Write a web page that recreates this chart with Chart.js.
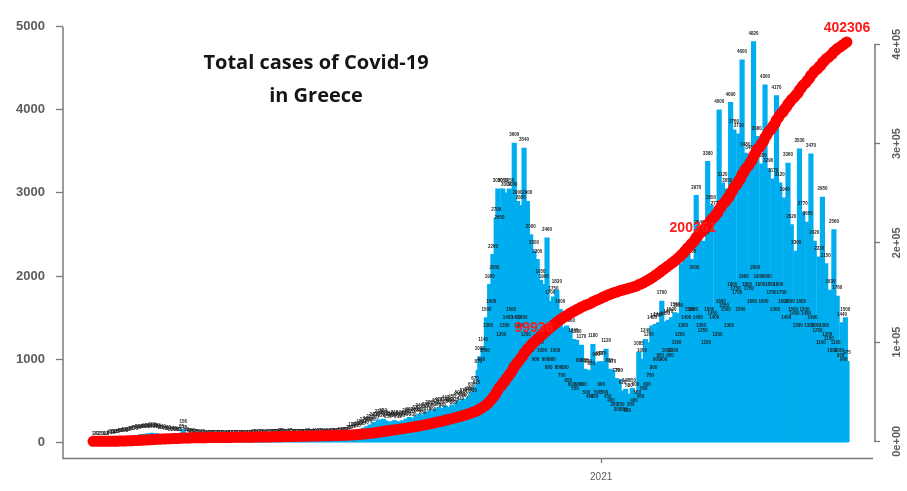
<!DOCTYPE html>
<html>
<head>
<meta charset="utf-8">
<title>Total cases of Covid-19 in Greece</title>
<script src="https://cdn.jsdelivr.net/npm/chart.js@4.4.1/dist/chart.umd.min.js"></script>
<style>
  html, body { margin: 0; padding: 0; background: #ffffff; }
  #wrap { width: 907px; height: 491px; position: relative; }
</style>
</head>
<body>
<div id="wrap"><canvas id="chart" width="907" height="491"></canvas></div>
<script>
// New confirmed cases per day, one array per month, from the first case on 26 Feb 2020
const startDate = '2020-02-26';
const feb2020 = [1, 2, 4, 3];
const mar2020 = [2, 5, 3, 9, 12, 6, 20, 25, 18, 30, 28, 35, 40, 38, 45, 52, 48, 60, 55, 70, 65,
                 75, 70, 85, 80, 90, 95, 85, 100, 90, 105];
const apr2020 = [95, 110, 100, 90, 105, 85, 80, 75, 90, 70, 65, 80, 60, 70, 55, 65, 50, 60, 55, 85,
                 156, 75, 50, 40, 45, 35, 40, 30, 25, 35];
const may2020 = [20, 15, 25, 18, 12, 22, 16, 14, 20, 17, 13, 19, 24, 15, 21, 18, 12, 16, 20, 14,
                 22, 17, 15, 19, 13, 18, 21, 16, 14, 20, 18];
const jun2020 = [18, 22, 25, 20, 30, 24, 28, 26, 19, 23, 31, 27, 22, 35, 29, 25, 33, 28, 40, 38,
                 30, 26, 34, 29, 37, 32, 28, 36, 31, 27];
const jul2020 = [30, 28, 35, 32, 26, 38, 34, 29, 36, 40, 33, 31, 37, 42, 35, 30, 39, 44, 36, 41,
                 38, 45, 40, 47, 43, 50, 46, 55, 52, 60, 75];
const aug2020 = [80, 110, 95, 120, 105, 130, 150, 125, 170, 140, 190, 160, 210, 180, 240, 200, 230, 270, 250, 220,
                 280, 260, 230, 210, 250, 240, 220, 260, 235, 215, 250];
const sep2020 = [220, 260, 240, 280, 250, 300, 270, 230, 290, 320, 280, 340, 300, 260, 330, 360, 310, 380, 340, 300,
                 370, 400, 350, 420, 380, 340, 410, 440, 390, 420];
const oct2020 = [400, 450, 380, 420, 470, 500, 430, 480, 520, 460, 510, 540, 550, 600, 520, 670, 620, 870, 1030, 900,
                 1140, 1000, 1500, 1300, 1900, 1600, 2260, 2000, 2700, 3050, 2600];
const nov2020 = [1200, 3050, 1300, 3000, 1400, 3050, 1500, 3000, 3600, 1400, 2900, 1300, 2850, 1400, 3540, 1200, 2900, 1000, 2500, 1100,
                 2300, 900, 2200, 1100, 1950, 1000, 1900, 900, 2460, 800];
const dec2020 = [1700, 900, 1750, 1000, 1830, 800, 1600, 700, 1380, 800, 1400, 650, 1360, 600, 1240, 550, 1230, 600, 880, 1170,
                 600, 880, 500, 870, 450, 850, 1180, 450, 960, 500, 970];
const jan2021 = [600, 970, 500, 1120, 450, 880, 400, 870, 350, 770, 300, 760, 350, 620, 300, 640, 280, 580, 350, 650,
                 400, 600, 500, 1085, 450, 1000, 550, 1240, 600, 1200, 700];
const feb2021 = [1400, 800, 1420, 900, 1440, 950, 1700, 900, 1450, 1000, 1470, 950, 1500, 1000, 1560, 1100, 1550, 1200, 2150, 1300,
                 2200, 1400, 2260, 1500, 2200, 1500, 2000, 2970];
const mar2021 = [1400, 2540, 1300, 1250, 2420, 1100, 3380, 1500, 2850, 1450, 1400, 2770, 1200, 4000, 1600, 3120, 1550, 1500, 3050, 1300,
                 4090, 1800, 3760, 1750, 1700, 3710, 1500, 4600, 1900, 3480, 1800];
const apr2021 = [1750, 3450, 1600, 4820, 2000, 3680, 1900, 1800, 3350, 1600, 4300, 1900, 3290, 1800, 1700, 3170, 1500, 4170, 1800, 3120,
                 1700, 1600, 2940, 1400, 3360, 1600, 2620, 1500, 1450, 2300];
const may2021 = [1300, 3530, 1600, 2770, 1500, 1450, 2650, 1300, 3470, 1400, 2420, 1300, 1250, 2230, 1100, 2950, 1300, 2150, 1200, 1150,
                 1830, 1000, 2560, 1100, 1760, 1000, 950, 1440, 900, 1500, 975];

// Axis ticks and labels
const leftTicks = [0, 1000, 2000, 3000, 4000, 5000];
const rightTicks = [0, 100000, 200000, 300000, 400000];
const rightTickLabels = ['0e+00', '1e+05', '2e+05', '3e+05', '4e+05'];
const xTickDates = ['2021-01-01'];
const xTickLabels = ['2021'];
const titleLines = ['Total cases of Covid-19', 'in Greece'];

const dailyCases = [].concat(feb2020, mar2020, apr2020, may2020, jun2020, jul2020, aug2020, sep2020,
                             oct2020, nov2020, dec2020, jan2021, feb2021, mar2021, apr2021, may2021);

// Total cases: running sum of the daily counts
const totalCases = [];
let running = 0;
for (const v of dailyCases) { running += v; totalCases.push(running); }

const dayOf = d => Math.round((Date.parse(d) - Date.parse(startDate)) / 86400000);
const xTickDays = xTickDates.map(dayOf);

// Totals written in red along the curve
const lastDay = totalCases.length - 1;
const markedDays = [
  totalCases.findIndex(v => v >= 100000) - 1,
  totalCases.findIndex(v => v >= 200000),
  lastDay
];

const barPoints = dailyCases.map((v, i) => ({ x: i, y: v }));
const linePoints = totalCases.map((v, i) => ({ x: i, y: v }));

// Plot geometry (pixels)
const AREA = { left: 63, right: 874, top: 10, bottom: 458 };
const dayPx = 754 / lastDay;                 // first day at x=93, last at x=847
const xMin = -(93 - AREA.left) / dayPx;
const xMax = xMin + (AREA.right - AREA.left) / dayPx;
const hPx = AREA.bottom - AREA.top;
const lPx = (442 - 18) / 5000;                // left scale: 0 at y=442, 5000 at y=18
const yLMin = -(AREA.bottom - 442) / lPx;
const yLMax = yLMin + hPx / lPx;
const rPx = (441 - 36) / 400000;              // right scale: 0 at y=441, 4e+05 at y=36
const yRMin = -(AREA.bottom - 441) / rPx;
const yRMax = yRMin + hPx / rPx;

const AXIS_GREY = '#7b7b7b';
const TEXT_GREY = '#5c5c5c';

const barValues = {
  id: 'barValues',
  afterDatasetDraw(chart, args) {
    if (args.index !== 1) return;
    const ctx = chart.ctx;
    ctx.save();
    ctx.font = 'bold 4.5px "Liberation Sans", Arial, sans-serif';
    ctx.fillStyle = '#1e1e1e';
    ctx.textAlign = 'center';
    ctx.textBaseline = 'middle';
    args.meta.data.forEach((el, i) => {
      ctx.fillText(String(dailyCases[i]), el.x, el.y - 8);
    });
    ctx.restore();
  }
};

const totalsText = {
  id: 'totalsText',
  afterDatasetsDraw(chart) {
    const ctx = chart.ctx;
    const meta = chart.getDatasetMeta(0);
    ctx.save();
    ctx.font = 'bold 14px "Liberation Sans", Arial, sans-serif';
    ctx.fillStyle = '#ff1a1a';
    ctx.textAlign = 'center';
    ctx.textBaseline = 'middle';
    markedDays.forEach(i => {
      const p = meta.data[i];
      ctx.fillText(String(totalCases[i]), p.x, p.y - 14);
    });
    ctx.restore();
  }
};

const frame = {
  id: 'frame',
  afterDraw(chart) {
    const { ctx, chartArea: a, scales } = chart;
    ctx.save();
    ctx.strokeStyle = AXIS_GREY;
    ctx.lineWidth = 1.5;
    ctx.beginPath();
    ctx.moveTo(a.left, scales.yL.getPixelForValue(leftTicks[leftTicks.length - 1]));
    ctx.lineTo(a.left, a.bottom + 0.5);
    ctx.lineTo(a.right - 1, a.bottom + 0.5);
    const rx = a.right + 1;
    ctx.moveTo(rx, scales.yR.getPixelForValue(rightTicks[rightTicks.length - 1]));
    ctx.lineTo(rx, scales.yR.getPixelForValue(rightTicks[0]));
    ctx.stroke();

    // right-hand tick labels, written along the axis
    ctx.fillStyle = TEXT_GREY;
    ctx.font = 'bold 11px "Liberation Sans", Arial, sans-serif';
    ctx.textAlign = 'center';
    ctx.textBaseline = 'middle';
    rightTicks.forEach((v, k) => {
      const y = scales.yR.getPixelForValue(v);
      ctx.save();
      ctx.translate(897, y);
      ctx.rotate(-Math.PI / 2);
      ctx.fillText(rightTickLabels[k], 0, 0);
      ctx.restore();
    });

    // title inside the plot
    ctx.fillStyle = '#151515';
    ctx.font = 'bold 20px "Open Sans", Lato, sans-serif';
    ctx.textAlign = 'center';
    ctx.textBaseline = 'alphabetic';
    ctx.fillText(titleLines[0], 316, 69);
    ctx.fillText(titleLines[1], 316, 102);
    ctx.restore();
  }
};

new Chart(document.getElementById('chart'), {
  type: 'bar',
  data: {
    datasets: [
      {
        type: 'line',
        data: linePoints,
        xAxisID: 'x',
        yAxisID: 'yR',
        borderColor: '#ff0000',
        borderWidth: 11,
        pointRadius: 0,
        tension: 0,
        fill: false,
        borderCapStyle: 'round',
        borderJoinStyle: 'round',
        order: 0
      },
      {
        type: 'bar',
        data: barPoints,
        xAxisID: 'x',
        yAxisID: 'yL',
        backgroundColor: '#00aeef',
        borderWidth: 0,
        barThickness: 4.5,
        order: 1
      }
    ]
  },
  options: {
    responsive: false,
    animation: false,
    devicePixelRatio: 1,
    layout: { padding: { top: AREA.top, left: 0, right: 0, bottom: 0 } },
    plugins: { legend: { display: false }, tooltip: { enabled: false } },
    events: [],
    scales: {
      x: {
        type: 'linear',
        min: xMin,
        max: xMax,
        offset: false,
        border: { display: false },
        grid: { display: true, drawOnChartArea: false, drawTicks: true, tickLength: 5,
                tickColor: AXIS_GREY, tickWidth: 1.3, offset: false },
        ticks: {
          autoSkip: false, maxRotation: 0, padding: 8, color: TEXT_GREY,
          font: { size: 10, family: '"Liberation Sans", Arial, sans-serif' },
          callback: v => { const k = xTickDays.indexOf(v); return k >= 0 ? xTickLabels[k] : ''; }
        },
        afterBuildTicks: s => { s.ticks = xTickDays.map(v => ({ value: v })); },
        afterFit: s => { s.height = 491 - AREA.bottom; }
      },
      yL: {
        type: 'linear',
        position: 'left',
        min: yLMin,
        max: yLMax,
        border: { display: false },
        grid: { display: true, drawOnChartArea: false, drawTicks: true, tickLength: 7,
                tickColor: AXIS_GREY, tickWidth: 1.3 },
        ticks: {
          padding: 11, color: TEXT_GREY,
          font: { size: 13, weight: 'bold', family: '"Liberation Sans", Arial, sans-serif' },
          callback: v => String(v)
        },
        afterBuildTicks: s => { s.ticks = leftTicks.map(v => ({ value: v })); },
        afterFit: s => { s.width = AREA.left; }
      },
      yR: {
        type: 'linear',
        position: 'right',
        min: yRMin,
        max: yRMax,
        border: { display: false },
        grid: { display: true, drawOnChartArea: false, drawTicks: true, tickLength: 6,
                tickColor: AXIS_GREY, tickWidth: 1.3 },
        ticks: { display: false },
        afterBuildTicks: s => { s.ticks = rightTicks.map(v => ({ value: v })); },
        afterFit: s => { s.width = 907 - AREA.right; }
      }
    }
  },
  plugins: [barValues, totalsText, frame]
});
</script>
</body>
</html>
